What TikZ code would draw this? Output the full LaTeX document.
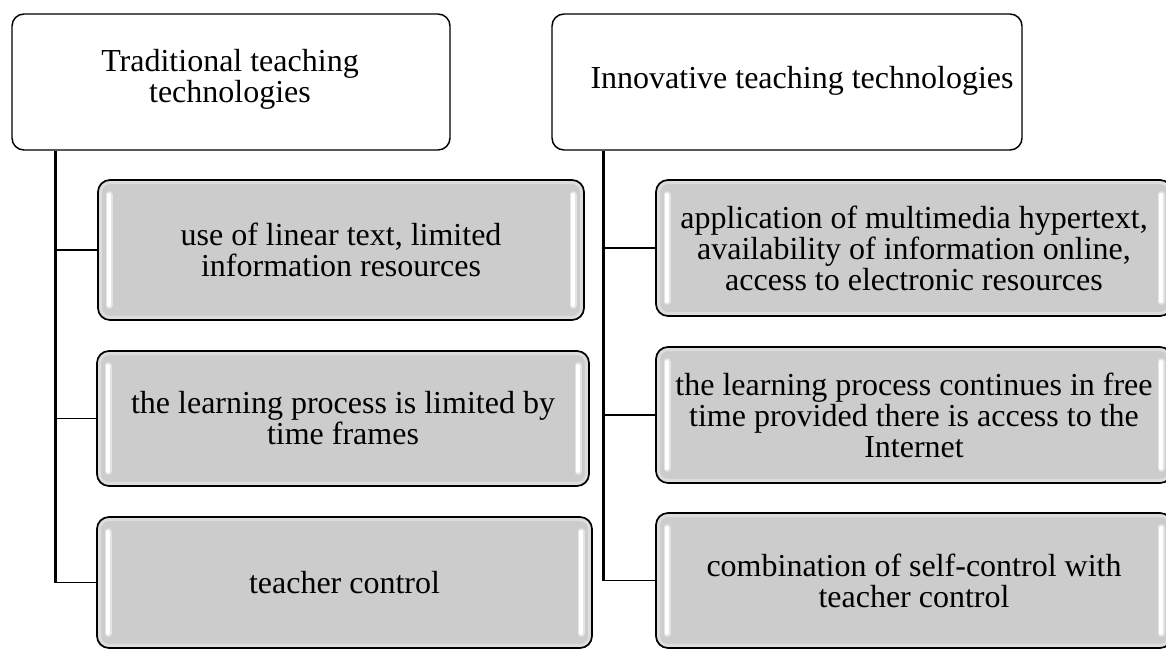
\documentclass[tikz,border=0pt]{standalone}
\usepackage{fontspec}
\setmainfont{Liberation Serif}
\usepackage{xcolor}
\usetikzlibrary{positioning}

\definecolor{boxgray}{HTML}{CCCCCC}
\definecolor{glossgray}{HTML}{E4E4E4}
\newcommand{\pxu}{0.75pt}

\tikzset{
  boxfont/.style={font=\fontsize{24}{23.2}\selectfont},
  headbox/.style={draw, line width=1.1pt, rounded corners=9pt, fill=white,
    inner sep=0pt},
  headtext/.style={align=center, inner sep=0pt, boxfont},
  itembox/.style={draw, line width=1.3pt, rounded corners=9pt, fill=boxgray,
    inner sep=0pt, align=center, boxfont,
    path picture={
      % lighter bevel just inside the border
      \draw[white, opacity=0.35, line width=2.5pt, rounded corners=7pt]
        ([shift={(1.8pt,-1.8pt)}]path picture bounding box.north west) rectangle
        ([shift={(-1.8pt,1.8pt)}]path picture bounding box.south east);
      % glossy strips left and right
      \foreach \s/\d in {west/1, east/-1}{
        \draw[glossgray, line width=5.25pt, line cap=round]
          ([shift={(\d*8.25pt,-11pt)}]path picture bounding box.north \s) --
          ([shift={(\d*8.25pt,11pt)}]path picture bounding box.south \s);
        \draw[white, line width=2.4pt, line cap=round]
          ([shift={(\d*8.25pt,-11pt)}]path picture bounding box.north \s) --
          ([shift={(\d*8.25pt,11pt)}]path picture bounding box.south \s);
      }
    }},
  trunk/.style={line width=1.9pt},
  branch/.style={line width=1.4pt}
}

\begin{document}
\begin{tikzpicture}[x=0.75pt, y=-0.75pt]
  \useasboundingbox (0,0) rectangle (1166,650);
  \clip (0,0) rectangle (1166,650);

  % headers
  \node[headbox, minimum width=438*\pxu, minimum height=136*\pxu] (trad) at (231,82) {};
  \node[headtext] (tradtext) at (230,79) {Traditional teaching\\technologies};
  \node[headbox, minimum width=470*\pxu, minimum height=136*\pxu] (innov) at (787,82) {};
  \node[headtext] (innovtext) at (802,81) {Innovative teaching technologies};

  % traditional column
  \node[itembox, minimum width=486*\pxu, minimum height=140*\pxu] (t1) at (341,250)
    {use of linear text, limited\\information resources};
  \node[itembox, minimum width=492*\pxu, minimum height=135*\pxu] (t2) at (343,418.5)
    {the learning process is limited by\\time frames};
  \node[itembox, minimum width=495*\pxu, minimum height=131*\pxu] (t3) at (344.5,582.5)
    {teacher control};

  % innovative column
  \node[itembox, minimum width=516*\pxu, minimum height=136*\pxu] (i1) at (914,248)
    {application of multimedia hypertext,\\availability of information online,\\access to electronic resources};
  \node[itembox, minimum width=516*\pxu, minimum height=136*\pxu] (i2) at (914,415)
    {the learning process continues in free\\time provided there is access to the\\Internet};
  \node[itembox, minimum width=516*\pxu, minimum height=135*\pxu] (i3) at (914,580.5)
    {combination of self-control with\\teacher control};

  % tree lines
  \coordinate (tl) at ([xshift=44*\pxu]trad.south west);
  \coordinate (tr) at ([xshift=52*\pxu]innov.south west);
  \draw[trunk] (tl) -- (tl |- t3.west);
  \draw[trunk] (tr) -- (tr |- i3.west);
  \foreach \b in {t1,t2,t3}
    \draw[branch] (tl |- \b.west) -- (\b.west);
  \foreach \b in {i1,i2,i3}
    \draw[branch] (tr |- \b.west) -- (\b.west);
\end{tikzpicture}
\end{document}
